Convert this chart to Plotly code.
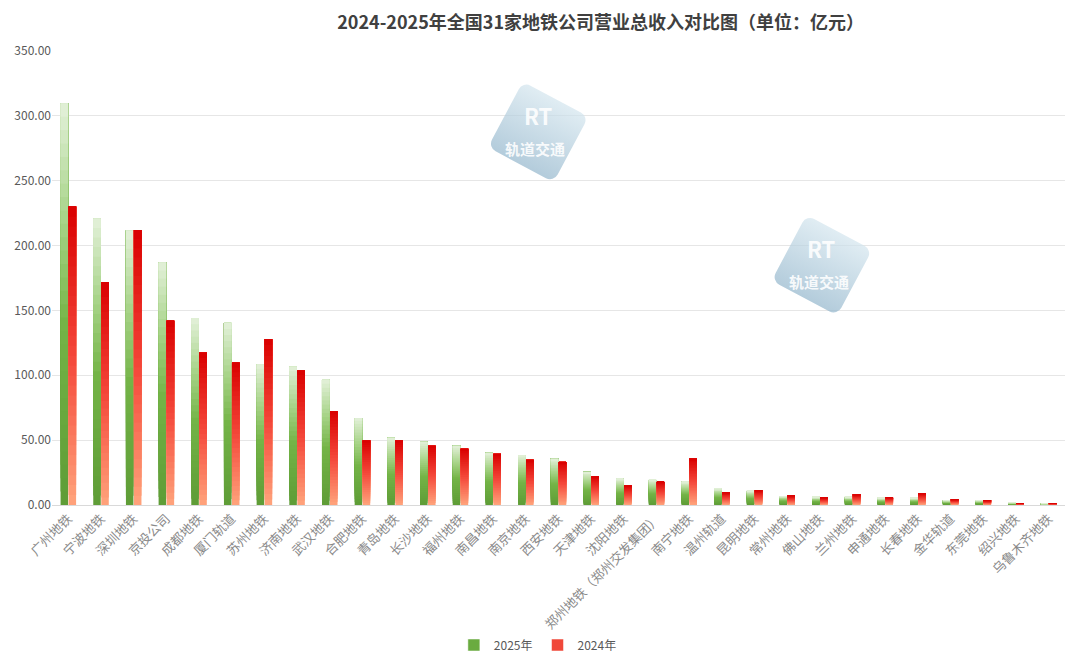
import base64
import plotly.graph_objects as go
from plotly.colors import sample_colorscale

companies = ["广州地铁", "宁波地铁", "深圳地铁", "京投公司", "成都地铁", "厦门轨道", "苏州地铁",
             "济南地铁", "武汉地铁", "合肥地铁", "青岛地铁", "长沙地铁", "福州地铁", "南昌地铁",
             "南京地铁", "西安地铁", "天津地铁", "沈阳地铁", "郑州地铁（郑州交发集团）", "南宁地铁",
             "温州轨道", "昆明地铁", "常州地铁", "佛山地铁", "兰州地铁", "申通地铁", "长春地铁",
             "金华轨道", "东莞地铁", "绍兴地铁", "乌鲁木齐地铁"]

rev_2025 = [309.5, 220.8, 211.5, 186.9, 144.1, 140.3, 108.5, 106.7, 96.7, 67.0, 51.8,
            48.7, 45.6, 40.2, 38.4, 35.6, 25.5, 20.1, 19.3, 17.8, 12.8, 10.8, 6.9,
            6.2, 6.2, 5.4, 5.4, 3.8, 3.8, 2.0, 1.0]
rev_2024 = [230.0, 171.8, 211.9, 142.0, 117.4, 109.7, 127.7, 103.6, 72.3, 49.7, 49.7,
            45.6, 43.3, 39.4, 34.8, 33.2, 21.9, 14.9, 17.8, 35.8, 9.7, 11.3, 7.2,
            5.6, 8.2, 5.9, 9.0, 4.4, 3.6, 1.3, 1.3]

# bottom -> top gradient stops, like the Excel gradient fill
green_scale = [[0, "#5e9c36"], [0.45, "#74b447"], [0.72, "#a9d48a"], [1, "#e3f1da"]]
red_scale = [[0, "#ffa47c"], [0.5, "#f4473a"], [1, "#d90000"]]

N_SEG = 30
font_cn = "Noto Sans CJK SC, Microsoft YaHei, sans-serif"

fig = go.Figure()


def add_gradient_bars(values, scale, name, group, legend_color):
    colors = sample_colorscale(scale, [(i + 0.5) / N_SEG for i in range(N_SEG)])
    # each slice runs from its own start up to the bar top, later slices cover earlier ones
    for i, c in enumerate(colors):
        fig.add_trace(go.Bar(
            x=companies,
            y=[v * (N_SEG - i) / N_SEG for v in values],
            base=[v * i / N_SEG for v in values],
            offsetgroup=group,
            marker=dict(color=c, line=dict(width=0)),
            showlegend=False,
            hoverinfo="skip",
        ))
    fig.add_trace(go.Bar(
        x=companies, y=values, base=[0] * len(values), offsetgroup=group,
        marker=dict(color="rgba(0,0,0,0)", line=dict(width=0)),
        showlegend=False,
        hovertemplate="%{x}<br>" + name + ": %{y:.2f}<extra></extra>",
    ))
    fig.add_trace(go.Bar(
        x=[None], y=[None], name=name, marker=dict(color=legend_color),
        offsetgroup=group, showlegend=True,
    ))


add_gradient_bars(rev_2025, green_scale, "2025年", "a", "#6aab40")
add_gradient_bars(rev_2024, red_scale, "2024年", "b", "#f0483a")

# watermark logos: tilted rounded tile (svg image) with upright text on top
tile_svg = """<svg xmlns='http://www.w3.org/2000/svg' width='100' height='100' viewBox='0 0 100 100'>
<defs><linearGradient id='g' x1='0' y1='0' x2='0' y2='1'>
<stop offset='0' stop-color='#d3e5ee'/><stop offset='1' stop-color='#93b6cc'/></linearGradient></defs>
<rect x='20' y='20' width='60' height='60' rx='7' fill='url(#g)' opacity='0.7'
 transform='rotate(28 50 50)'/></svg>"""
tile_src = "data:image/svg+xml;base64," + base64.b64encode(tile_svg.encode()).decode()

for wx, wy in [(0.480, 0.820), (0.760, 0.527)]:
    fig.add_layout_image(
        source=tile_src, xref="paper", yref="paper", x=wx, y=wy,
        sizex=124 / 1013, sizey=124 / 455, xanchor="center", yanchor="middle",
        sizing="contain", layer="above",
    )
    fig.add_annotation(
        xref="paper", yref="paper", x=wx, y=wy, xanchor="center", yanchor="bottom",
        text="<b>RT</b>", showarrow=False, yshift=-1,
        font=dict(family=font_cn, size=22, color="rgba(255,255,255,0.9)"),
    )
    fig.add_annotation(
        xref="paper", yref="paper", x=wx, y=wy, xanchor="center", yanchor="top",
        text="<b>轨道交通</b>", showarrow=False, xshift=-3, yshift=-4,
        font=dict(family=font_cn, size=15, color="rgba(255,255,255,0.9)"),
    )

fig.update_layout(
    template="plotly_white",
    width=1064, height=651,
    barmode="group",
    bargap=0.51,
    bargroupgap=0.06,
    margin=dict(l=44, r=7, t=42, b=154),
    paper_bgcolor="white",
    plot_bgcolor="white",
    font=dict(family=font_cn, color="#595959"),
    title=dict(
        text="<b>2024-2025年全国31家地铁公司营业总收入对比图（单位：亿元）</b>",
        x=0.557, xanchor="center", y=0.978, yanchor="middle",
        font=dict(family=font_cn, size=18, color="#404040"),
    ),
    legend=dict(
        orientation="h", xref="container", yref="container",
        x=0.498, xanchor="center", y=0.0215, yanchor="middle",
        font=dict(size=12, color="#595959"), itemwidth=30,
        traceorder="normal",
    ),
    xaxis=dict(
        tickangle=-45, tickfont=dict(size=13, color="#8a8a8a"),
        showgrid=False, showline=True, linecolor="#d9d9d9", ticks="",
        automargin=False,
    ),
    yaxis=dict(
        range=[0, 350.6], dtick=50, tickformat=".2f",
        tickfont=dict(size=12, color="#595959"),
        gridcolor="#e6e6e6", zeroline=False, showline=False,
        automargin=False,
    ),
)

fig.write_html("out.html")
